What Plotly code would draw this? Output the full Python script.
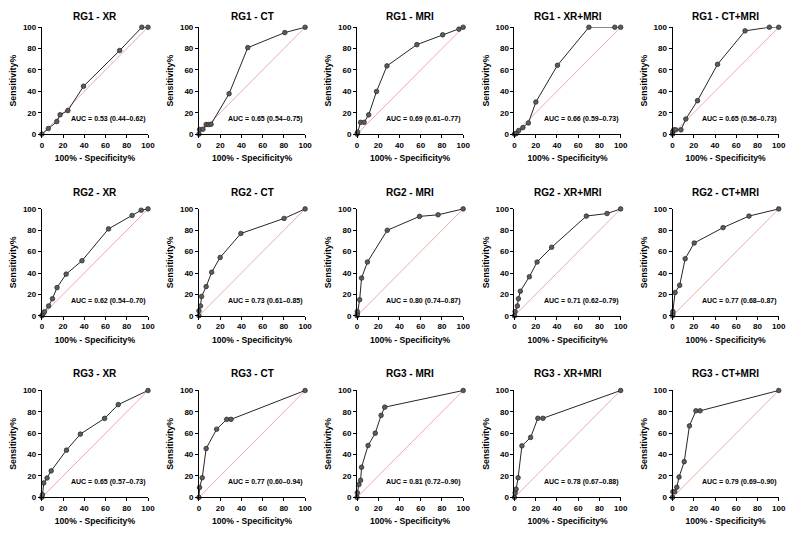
import plotly.graph_objects as go

# ---- data (100% - Specificity%, Sensitivity%) ----
titles = ["RG1 - XR", "RG1 - CT", "RG1 - MRI", "RG1 - XR+MRI", "RG1 - CT+MRI",
          "RG2 - XR", "RG2 - CT", "RG2 - MRI", "RG2 - XR+MRI", "RG2 - CT+MRI",
          "RG3 - XR", "RG3 - CT", "RG3 - MRI", "RG3 - XR+MRI", "RG3 - CT+MRI"]
auc_labels = ["AUC = 0.53 (0.44–0.62)", "AUC = 0.65 (0.54–0.75)", "AUC = 0.69 (0.61–0.77)",
              "AUC = 0.66 (0.59–0.73)", "AUC = 0.65 (0.56–0.73)",
              "AUC = 0.62 (0.54–0.70)", "AUC = 0.73 (0.61–0.85)", "AUC = 0.80 (0.74–0.87)",
              "AUC = 0.71 (0.62–0.79)", "AUC = 0.77 (0.68–0.87)",
              "AUC = 0.65 (0.57–0.73)", "AUC = 0.77 (0.60–0.94)", "AUC = 0.81 (0.72–0.90)",
              "AUC = 0.78 (0.67–0.88)", "AUC = 0.79 (0.69–0.90)"]

rg1_xr_x = [0, 6.1, 14.1, 17.2, 24.5, 39.3, 73.3, 94.2, 100]
rg1_xr_y = [0, 5.2, 11.7, 18.1, 22.0, 44.8, 78.2, 100, 100]
rg1_ct_x = [0, 0.6, 3.7, 6.8, 9.0, 11.4, 28.4, 46.0, 80.9, 100]
rg1_ct_y = [0, 4.3, 4.6, 9.0, 9.0, 9.2, 37.8, 80.9, 95.0, 100]
rg1_mri_x = [0, 0.6, 3.4, 6.7, 11.0, 18.4, 28.2, 56.4, 80.7, 96.0, 100]
rg1_mri_y = [0, 1.8, 11.0, 11.0, 18.0, 39.9, 63.8, 83.7, 92.9, 98.2, 100]
rg1_xrmri_x = [0, 1.0, 2.0, 4.0, 7.9, 13.1, 20.1, 40.5, 70.1, 94.5, 100]
rg1_xrmri_y = [0, 0.3, 0.8, 3.4, 6.1, 10.4, 30.0, 64.4, 100, 100, 100]
rg1_ctmri_x = [0, 0.3, 1.2, 3.0, 7.9, 12.5, 23.5, 42.4, 68.3, 91.2, 100]
rg1_ctmri_y = [0, 2.5, 4.0, 4.0, 4.0, 14.1, 31.3, 65.3, 96.6, 100, 100]

rg2_xr_x = [0, 1.2, 2.4, 6.4, 10.0, 14.3, 22.9, 37.8, 62.8, 85.0, 93.6, 100]
rg2_xr_y = [0, 1.8, 3.7, 9.2, 16.0, 26.4, 39.0, 51.5, 81.3, 93.9, 98.8, 100]
rg2_ct_x = [0, 0, 1.5, 2.5, 6.8, 12.0, 20.0, 39.5, 80.2, 100]
rg2_ct_y = [0, 4.6, 9.2, 18.1, 27.3, 40.8, 54.6, 77.0, 91.1, 100]
rg2_mri_x = [0, 0.3, 0.3, 2.5, 4.3, 9.8, 28.5, 58.9, 76.4, 100]
rg2_mri_y = [0, 1.8, 4.0, 15.0, 35.3, 50.3, 80.0, 93.0, 94.5, 100]
rg2_xrmri_x = [0, 0.6, 2.7, 3.7, 5.5, 14.0, 21.3, 35.0, 67.7, 87.2, 100]
rg2_xrmri_y = [0, 4.0, 9.2, 16.0, 23.0, 36.5, 50.3, 64.1, 93.3, 95.7, 100]
rg2_ctmri_x = [0, 0.3, 0.3, 2.4, 6.7, 11.9, 20.4, 47.6, 72.0, 100]
rg2_ctmri_y = [0, 1.8, 4.0, 21.8, 28.5, 53.4, 68.1, 82.5, 93.3, 100]

rg3_xr_x = [0, 0.6, 1.8, 4.9, 8.8, 23.2, 36.3, 59.1, 72.0, 100]
rg3_xr_y = [0, 2.5, 13.5, 18.1, 24.8, 44.2, 59.2, 73.9, 86.8, 100]
rg3_ct_x = [0, 0.6, 3.1, 6.8, 16.7, 26.2, 30.2, 100]
rg3_ct_y = [0, 9.2, 18.4, 45.7, 63.8, 73.0, 73.0, 100]
rg3_mri_x = [0, 0.3, 1.8, 3.4, 4.3, 10.4, 17.2, 22.7, 26.1, 100]
rg3_mri_y = [0, 4.3, 12.0, 16.0, 28.2, 48.5, 60.1, 76.7, 84.4, 100]
rg3_xrmri_x = [0, 0.6, 1.5, 3.4, 7.0, 15.2, 22.0, 26.8, 100]
rg3_xrmri_y = [0, 4.3, 7.7, 18.4, 48.2, 56.1, 74.0, 74.0, 100]
rg3_ctmri_x = [0, 0.3, 2.1, 4.0, 6.1, 11.0, 15.9, 22.0, 25.9, 100]
rg3_ctmri_y = [0, 5.2, 5.2, 9.5, 19.0, 33.4, 66.9, 81.0, 81.0, 100]

series_x = [rg1_xr_x, rg1_ct_x, rg1_mri_x, rg1_xrmri_x, rg1_ctmri_x,
            rg2_xr_x, rg2_ct_x, rg2_mri_x, rg2_xrmri_x, rg2_ctmri_x,
            rg3_xr_x, rg3_ct_x, rg3_mri_x, rg3_xrmri_x, rg3_ctmri_x]
series_y = [rg1_xr_y, rg1_ct_y, rg1_mri_y, rg1_xrmri_y, rg1_ctmri_y,
            rg2_xr_y, rg2_ct_y, rg2_mri_y, rg2_xrmri_y, rg2_ctmri_y,
            rg3_xr_y, rg3_ct_y, rg3_mri_y, rg3_xrmri_y, rg3_ctmri_y]
ref_line = [0, 100]
tick_vals = [0, 20, 40, 60, 80, 100]

# ---- layout geometry ----
# The page shows the figure with an 8px offset and ~784px of visible width,
# so target page positions are mapped to figure pixels.
W, H = 800, 533
OFF = 8
SX = 0.985


def fx(px):
    return (px - 2) * SX


def fy(py):
    return py - OFF


col_left = [fx(p) for p in [34.7, 196.0, 358.3, 520.0, 682.3]]
pw = 109.0 * SX
row_top = [fy(p) for p in [23.5, 208.3, 393.0]]
ph = 108.7
title_y = [4.2, fy(191.7), fy(376.0)]
FONT = "Arial, Liberation Sans, Helvetica, sans-serif"

fig = go.Figure()
annotations = []
layout_axes = {}
for i in range(15):
    r, c = divmod(i, 5)
    n = i + 1
    xa = "x" if n == 1 else f"x{n}"
    ya = "y" if n == 1 else f"y{n}"
    x0 = col_left[c] / W
    x1 = (col_left[c] + pw) / W
    y1 = 1 - row_top[r] / H
    y0 = 1 - (row_top[r] + ph) / H
    fig.add_trace(go.Scatter(x=ref_line, y=ref_line, mode="lines",
                             line=dict(color="#e9a3a3", width=0.9),
                             xaxis=xa, yaxis=ya, showlegend=False, hoverinfo="skip"))
    fig.add_trace(go.Scatter(x=series_x[i], y=series_y[i], mode="lines+markers",
                             line=dict(color="#262626", width=1),
                             marker=dict(size=4.6, color="#5c5c5c",
                                         line=dict(color="#222222", width=0.7)),
                             cliponaxis=False,
                             xaxis=xa, yaxis=ya, showlegend=False))
    axcommon = dict(range=[0, 100], tickvals=tick_vals, ticks="outside", ticklen=3,
                    tickwidth=1, tickcolor="black", showline=True, linecolor="black",
                    linewidth=1, showgrid=False, zeroline=False,
                    tickfont=dict(family=FONT, size=8, color="black", weight="bold"))
    layout_axes["xaxis" if n == 1 else f"xaxis{n}"] = dict(
        axcommon, domain=[x0, x1], anchor=ya,
        title=dict(text="100% - Specificity%", standoff=6,
                   font=dict(family=FONT, size=8.6, color="black", weight="bold")))
    layout_axes["yaxis" if n == 1 else f"yaxis{n}"] = dict(
        axcommon, domain=[y0, y1], anchor=xa,
        title=dict(text="Sensitivity%", standoff=4,
                   font=dict(family=FONT, size=8.8, color="black", weight="bold")))
    annotations.append(dict(text=f"<b>{titles[i]}</b>", x=(x0 + x1) / 2,
                            y=1 - title_y[r] / H, xref="paper", yref="paper",
                            xanchor="center", yanchor="middle", showarrow=False,
                            borderpad=0,
                            font=dict(family=FONT, size=10, color="black")))
    annotations.append(dict(text=f"<b>{auc_labels[i]}</b>", x=100, y=14,
                            xref=xa, yref=ya, xanchor="right", yanchor="middle",
                            showarrow=False,
                            font=dict(family=FONT, size=7, color="black")))

fig.update_layout(width=W, height=H, margin=dict(l=0, r=0, t=0, b=0),
                  paper_bgcolor="white", plot_bgcolor="white",
                  annotations=annotations, **layout_axes)
fig.write_html("out.html")
